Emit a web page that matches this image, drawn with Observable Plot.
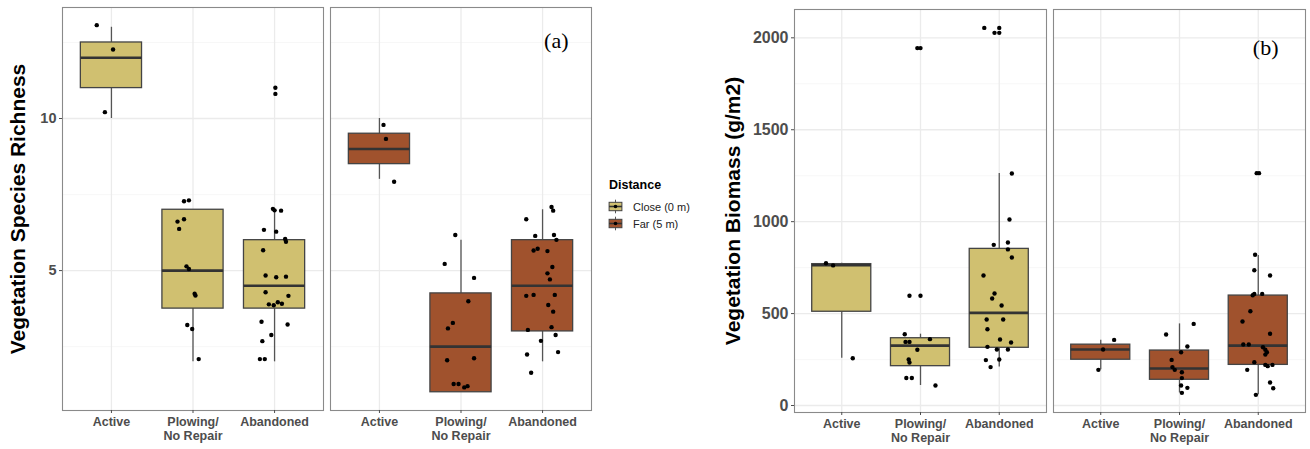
<!DOCTYPE html>
<html>
<head>
<meta charset="utf-8">
<script src="https://cdn.jsdelivr.net/npm/d3@7"></script>
<script src="https://cdn.jsdelivr.net/npm/@observablehq/plot@0.6"></script>
<style>
  html, body { margin: 0; padding: 0; background: #fff; }
  #root { position: relative; width: 1310px; height: 449px; overflow: hidden; font-family: "Liberation Sans", Arial, sans-serif; }
  .panel { position: absolute; top: 0; }
  #legend { position: absolute; left: 607px; top: 178px; font-family: "Liberation Sans", Arial, sans-serif; }
  #legend .title { font-weight: bold; font-size: 12.5px; color: #000; margin-left: 2px; margin-bottom: 6px; }
  #legend .row { display: flex; align-items: center; height: 17px; }
  #legend .row span { font-size: 11px; color: #222; margin-left: 9px; }
</style>
</head>
<body>
<div id="root">
  <div id="pa" class="panel" style="left:0px"></div>
  <div id="legend"></div>
  <div id="pb" class="panel" style="left:700px"></div>
</div>
<script>
// ---------- data ----------
const categories = ["Active", "Plowing/\nNo Repair", "Abandoned"];
const distances = ["Close", "Far"];
const distanceLabels = ["Close (0 m)", "Far (5 m)"];
const distanceColors = ["#d0c070", "#a0522d"];

const richnessTicks = [5, 10];
const richnessMinor = [2.5, 7.5, 12.5];
const biomassTicks = [0, 500, 1000, 1500, 2000];
const biomassMinor = [250, 750, 1250, 1750];

// box stats: [distance, category, lowerWhisker, q1, median, q3, upperWhisker]
const richnessBoxes = [
  [0, 1, 10, 11, 12, 12.5, 13],
  [0, 2, 2, 3.75, 5, 7, 7],
  [0, 3, 2, 3.75, 4.5, 6, 7],
  [1, 1, 8, 8.5, 9, 9.5, 10],
  [1, 2, 1, 1, 2.5, 4.25, 6],
  [1, 3, 2, 3, 4.5, 6, 7]
];
const biomassBoxes = [
  [0, 1, 257, 510, 763, 769, 774],
  [0, 2, 109, 214, 326, 366, 388],
  [0, 3, 209, 314, 504, 852, 1262],
  [1, 1, 194, 249, 305, 331, 355],
  [1, 2, 69, 140, 201, 299, 444],
  [1, 3, 58, 221, 326, 598, 816]
];

// points: [distance, category, jitter, value]
const richnessPoints = [
  [0,1,-0.18,13.07],[0,1,0.02,12.27],[0,1,-0.08,10.21],
  [0,2,-0.11,7.28],[0,2,-0.05,7.31],[0,2,-0.19,6.61],[0,2,-0.11,6.69],[0,2,-0.17,6.37],[0,2,-0.08,5.14],
  [0,2,-0.05,5.05],[0,2,0.02,4.24],[0,2,0.03,4.18],[0,2,-0.07,3.21],[0,2,-0.01,3.08],[0,2,0.07,2.09],
  [0,3,0.01,11.01],[0,3,0.01,10.81],[0,3,-0.02,7.03],[0,3,0.0,6.98],[0,3,0.08,6.97],[0,3,-0.13,6.34],
  [0,3,0.02,6.28],[0,3,0.13,6.04],[0,3,0.14,5.95],[0,3,-0.14,5.67],[0,3,-0.11,4.84],[0,3,0.02,4.78],
  [0,3,0.14,4.80],[0,3,-0.11,4.29],[0,3,0.17,4.17],[0,3,-0.07,3.89],[0,3,-0.01,3.86],[0,3,0.04,3.96],
  [0,3,0.09,3.91],[0,3,-0.16,3.32],[0,3,0.16,3.23],[0,3,-0.04,2.88],[0,3,-0.15,2.68],[0,3,-0.18,2.09],[0,3,-0.12,2.09],
  [1,1,0.05,9.79],[1,1,0.08,9.33],[1,1,0.18,7.92],
  [1,2,-0.07,6.17],[1,2,-0.20,5.22],[1,2,0.16,4.76],[1,2,0.09,3.99],[1,2,-0.10,3.28],[1,2,-0.16,3.10],
  [1,2,-0.17,2.05],[1,2,0.16,2.12],[1,2,-0.09,1.27],[1,2,-0.03,1.27],[1,2,0.04,1.16],[1,2,0.08,1.20],
  [1,3,0.11,7.09],[1,3,0.13,6.97],[1,3,-0.20,6.69],[1,3,-0.09,6.14],[1,3,0.14,6.17],[1,3,0.17,6.01],
  [1,3,-0.11,5.66],[1,3,-0.06,5.72],[1,3,0.06,5.64],[1,3,0.12,5.12],[1,3,0.06,4.91],[1,3,0.09,4.71],
  [1,3,-0.20,4.17],[1,3,-0.11,4.20],[1,3,0.15,4.20],[1,3,0.07,3.87],[1,3,0.13,3.65],[1,3,-0.18,3.05],
  [1,3,0.11,3.14],[1,3,0.16,2.88],[1,3,-0.02,2.69],[1,3,-0.19,2.24],[1,3,0.19,2.32],[1,3,-0.14,1.64]
];
const biomassPoints = [
  [0,1,-0.20,774],[0,1,-0.11,762],[0,1,0.14,257],
  [0,2,-0.04,1944],[0,2,0.0,1944],[0,2,-0.14,597],[0,2,0.0,597],[0,2,-0.20,388],[0,2,-0.19,346],
  [0,2,-0.14,346],[0,2,0.12,361],[0,2,-0.04,303],[0,2,-0.15,250],[0,2,-0.14,234],[0,2,-0.18,150],
  [0,2,-0.11,150],[0,2,0.19,109],
  [0,3,-0.19,2054],[0,3,0.0,2054],[0,3,-0.06,2027],[0,3,0.0,2027],[0,3,0.16,1262],[0,3,0.13,1012],
  [0,3,0.11,887],[0,3,-0.07,874],[0,3,0.11,849],[0,3,0.16,805],[0,3,-0.20,707],[0,3,-0.06,609],
  [0,3,-0.09,582],[0,3,0.03,544],[0,3,-0.16,468],[0,3,0.05,468],[0,3,-0.15,415],[0,3,0.01,359],
  [0,3,0.15,343],[0,3,-0.15,319],[0,3,-0.03,305],[0,3,0.11,305],[0,3,-0.17,247],[0,3,0.0,250],[0,3,-0.11,209],
  [1,1,0.17,357],[1,1,0.03,305],[1,1,-0.03,194],
  [1,2,0.18,444],[1,2,-0.17,386],[1,2,0.10,321],[1,2,0.02,290],[1,2,-0.10,248],[1,2,-0.09,209],
  [1,2,-0.06,194],[1,2,0.03,181],[1,2,0.03,149],[1,2,0.02,109],[1,2,0.10,96],[1,2,0.03,69],
  [1,3,-0.02,1264],[1,3,0.01,1264],[1,3,-0.04,820],[1,3,-0.05,736],[1,3,0.15,707],[1,3,-0.07,600],
  [1,3,-0.05,607],[1,3,0.05,607],[1,3,-0.10,513],[1,3,-0.20,457],[1,3,0.15,390],[1,3,-0.19,332],
  [1,3,-0.12,332],[1,3,0.06,317],[1,3,0.09,303],[1,3,0.11,290],[1,3,0.09,277],[1,3,-0.05,236],
  [1,3,0.09,221],[1,3,0.12,214],[1,3,0.18,221],[1,3,-0.14,194],[1,3,0.15,125],[1,3,0.19,94],[1,3,-0.03,58]
];

// ---------- drawing ----------
const boxHalf = 0.375;
const toBox = r => ({dist: distances[r[0]], cat: r[1], lo: r[2], q1: r[3], med: r[4], q3: r[5], hi: r[6]});
const toPt = r => ({dist: distances[r[0]], x: r[1] + r[2], v: r[3]});

function panel(o) {
  const boxes = o.boxes.map(toBox);
  const pts = o.points.map(toPt);
  const W = o.width - o.marginLeft - o.marginRight;
  const gap = 7;
  const pi = 2 * gap / (W + gap);
  return Plot.plot({
    width: o.width,
    height: 449,
    marginLeft: o.marginLeft,
    marginRight: o.marginRight,
    marginTop: o.marginTop,
    marginBottom: o.marginBottom,
    style: {fontFamily: "'Liberation Sans', Arial, sans-serif", background: "transparent", overflow: "visible"},
    fx: {domain: distances, paddingInner: pi, paddingOuter: 0, axis: null, label: null},
    x: {domain: [0.4, 3.6], axis: null},
    y: {domain: o.yDomain, nice: false, axis: null},
    color: {domain: distances, range: distanceColors},
    marks: [
      Plot.gridY(o.yMinor, {stroke: "#f3f3f3", strokeOpacity: 1, strokeWidth: 0.7}),
      Plot.gridY(o.yTicks, {stroke: "#ebebeb", strokeOpacity: 1, strokeWidth: 1.3}),
      Plot.gridX([1, 2, 3], {stroke: "#ebebeb", strokeOpacity: 1, strokeWidth: 1.3}),
      Plot.ruleX(boxes, {fx: "dist", x: "cat", y1: "lo", y2: "q1", stroke: "#555", strokeWidth: 1.3}),
      Plot.ruleX(boxes, {fx: "dist", x: "cat", y1: "q3", y2: "hi", stroke: "#555", strokeWidth: 1.3}),
      Plot.rect(boxes, {fx: "dist", x1: d => d.cat - boxHalf, x2: d => d.cat + boxHalf, y1: "q1", y2: "q3",
        fill: "dist", stroke: "#444", strokeWidth: 1.3}),
      Plot.ruleY(boxes, {fx: "dist", y: "med", x1: d => d.cat - boxHalf, x2: d => d.cat + boxHalf,
        stroke: "#333", strokeWidth: 2.6}),
      Plot.dot(pts, {fx: "dist", x: "x", y: "v", r: 2.2, fill: "#000", stroke: "none"}),
      Plot.frame({stroke: "#8a8a8a", strokeWidth: 1.1}),
      Plot.axisY({ticks: o.yTicks, tickFormat: d => String(d), tickSize: 3, tickPadding: 3, fontSize: o.yFont,
        fontWeight: "bold", color: "#4d4d4d", label: null}),
      Plot.axisX({ticks: [1, 2, 3], tickFormat: d => categories[d - 1], tickSize: 3, tickPadding: 3,
        fontSize: 12.5, fontWeight: "bold", color: "#4d4d4d", label: null, lineHeight: 1.08}),
      Plot.text([o.yLabel], {fx: ["Close"], text: d => d, frameAnchor: "left", textAnchor: "middle",
        lineAnchor: "middle", rotate: -90, dx: o.titleDx, fontSize: 21, fontWeight: "bold", fill: "#000"}),
      Plot.text([o.tag], {fx: ["Far"], text: d => d, frameAnchor: "top-right", textAnchor: "end", lineAnchor: "top",
        dx: o.tagDx, dy: o.tagDy, fontSize: 22, fontFamily: "'Liberation Serif', 'Times New Roman', serif", fill: "#000"})
    ]
  });
}

document.getElementById("pa").appendChild(panel({
  boxes: richnessBoxes, points: richnessPoints,
  yDomain: [0.4, 13.65], yTicks: richnessTicks, yMinor: richnessMinor,
  yLabel: "Vegetation Species Richness", tag: "(a)",
  width: 600, marginLeft: 62, marginRight: 9, marginTop: 7, marginBottom: 39,
  yFont: 14.5, titleDx: -44, tagDx: -23, tagDy: 25
}));

document.getElementById("pb").appendChild(panel({
  boxes: biomassBoxes, points: biomassPoints,
  yDomain: [-38, 2154], yTicks: biomassTicks, yMinor: biomassMinor,
  yLabel: "Vegetation Biomass (g/m2)", tag: "(b)",
  width: 610, marginLeft: 94, marginRight: 5, marginTop: 9, marginBottom: 37,
  yFont: 16, titleDx: -61, tagDx: -27, tagDy: 30
}));

// legend
const legend = document.getElementById("legend");
const lt = document.createElement("div");
lt.className = "title";
lt.textContent = "Distance";
legend.appendChild(lt);
distances.forEach((d, i) => {
  const row = document.createElement("div");
  row.className = "row";
  const ns = "http://www.w3.org/2000/svg";
  const svg = document.createElementNS(ns, "svg");
  svg.setAttribute("width", 17); svg.setAttribute("height", 17);
  svg.innerHTML =
    `<line x1="8.5" x2="8.5" y1="1.7" y2="15.3" stroke="#555" stroke-width="1"/>` +
    `<rect x="2.1" y="4.3" width="12.8" height="8.4" fill="${distanceColors[i]}" stroke="#444" stroke-width="1"/>` +
    `<line x1="2.1" x2="14.9" y1="8.5" y2="8.5" stroke="#333" stroke-width="1.6"/>` +
    `<circle cx="8.5" cy="8.5" r="1.8" fill="#000"/>`;
  row.appendChild(svg);
  const s = document.createElement("span");
  s.textContent = distanceLabels[i];
  row.appendChild(s);
  legend.appendChild(row);
});
</script>
</body>
</html>
